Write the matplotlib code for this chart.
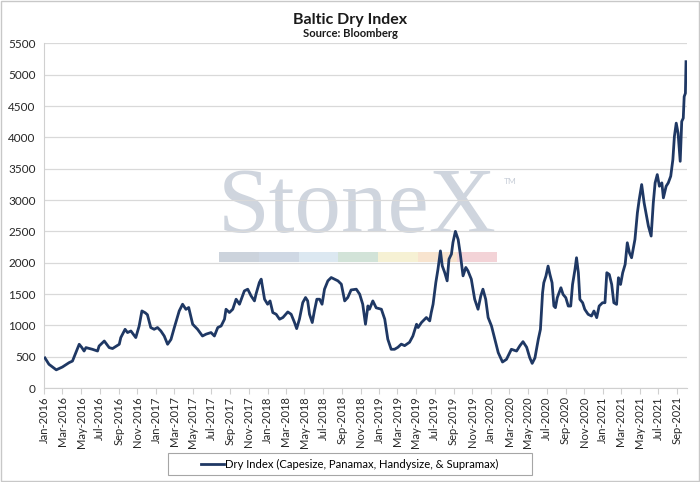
import matplotlib
matplotlib.use("Agg")
import matplotlib.pyplot as plt
import matplotlib.dates as mdates
from matplotlib.patches import Rectangle
import pandas as pd

dates = [
    "2016-01-04", "2016-01-17", "2016-02-10", "2016-03-01", "2016-03-23", "2016-04-03",
    "2016-04-14", "2016-04-25", "2016-05-03", "2016-05-11", "2016-05-17", "2016-06-07",
    "2016-06-24", "2016-06-29", "2016-07-16", "2016-08-01", "2016-08-12", "2016-09-03",
    "2016-09-08", "2016-09-22", "2016-09-30", "2016-10-11", "2016-10-27", "2016-11-07",
    "2016-11-16", "2016-11-27", "2016-12-04", "2016-12-15", "2016-12-26",
    "2017-01-06", "2017-01-17", "2017-01-28", "2017-02-08", "2017-02-19", "2017-03-02",
    "2017-03-18", "2017-03-29", "2017-04-09", "2017-04-18", "2017-05-01", "2017-05-17",
    "2017-06-02", "2017-06-14", "2017-06-30", "2017-07-11", "2017-07-22", "2017-08-02",
    "2017-08-13", "2017-08-18", "2017-08-29", "2017-09-09", "2017-09-20", "2017-10-01",
    "2017-10-07", "2017-10-17", "2017-10-28", "2017-11-08", "2017-11-19", "2017-11-24",
    "2017-12-05", "2017-12-11", "2017-12-22",
    "2018-01-01", "2018-01-09", "2018-01-18", "2018-01-29", "2018-02-09", "2018-02-20",
    "2018-03-08", "2018-03-19", "2018-03-30", "2018-04-06", "2018-04-15", "2018-04-26",
    "2018-05-05", "2018-05-12", "2018-05-18", "2018-05-27", "2018-06-03", "2018-06-11",
    "2018-06-20", "2018-06-28", "2018-07-06", "2018-07-17", "2018-07-28", "2018-08-08",
    "2018-08-19", "2018-08-30", "2018-09-10", "2018-09-20", "2018-10-01", "2018-10-18",
    "2018-10-29", "2018-11-08", "2018-11-17", "2018-11-25", "2018-11-30", "2018-12-11",
    "2018-12-22",
    "2019-01-08", "2019-01-19", "2019-01-29", "2019-02-09", "2019-02-20", "2019-03-03",
    "2019-03-14", "2019-03-25", "2019-04-10", "2019-04-21", "2019-05-03", "2019-05-08",
    "2019-05-19", "2019-06-04", "2019-06-15", "2019-06-20", "2019-06-26", "2019-07-05",
    "2019-07-12", "2019-07-20", "2019-07-26", "2019-08-03", "2019-08-11", "2019-08-17",
    "2019-08-25", "2019-08-30", "2019-09-07", "2019-09-16", "2019-09-23", "2019-10-02",
    "2019-10-11", "2019-10-18", "2019-10-29", "2019-11-09", "2019-11-20", "2019-11-29",
    "2019-12-06", "2019-12-15", "2019-12-23",
    "2020-01-03", "2020-01-14", "2020-01-25", "2020-02-08", "2020-02-21", "2020-03-08",
    "2020-03-25", "2020-04-05", "2020-04-15", "2020-04-27", "2020-05-07", "2020-05-15",
    "2020-05-24", "2020-06-04", "2020-06-11", "2020-06-18", "2020-06-22", "2020-06-29",
    "2020-07-06", "2020-07-12", "2020-07-19", "2020-07-25", "2020-07-30", "2020-08-05",
    "2020-08-11", "2020-08-17", "2020-08-24", "2020-09-02", "2020-09-10", "2020-09-18",
    "2020-09-24", "2020-10-02", "2020-10-07", "2020-10-13", "2020-10-18", "2020-10-27",
    "2020-11-03", "2020-11-14", "2020-11-25", "2020-12-03", "2020-12-12", "2020-12-20",
    "2020-12-31",
    "2021-01-08", "2021-01-14", "2021-01-22", "2021-01-30", "2021-02-06", "2021-02-15",
    "2021-02-21", "2021-02-28", "2021-03-07", "2021-03-15", "2021-03-22", "2021-03-29",
    "2021-04-05", "2021-04-16", "2021-04-24", "2021-04-30", "2021-05-08", "2021-05-16",
    "2021-05-22", "2021-05-30", "2021-06-08", "2021-06-15", "2021-06-21", "2021-06-28",
    "2021-07-05", "2021-07-13", "2021-07-18", "2021-07-27", "2021-08-03", "2021-08-11",
    "2021-08-18", "2021-08-23", "2021-08-29", "2021-09-04", "2021-09-11", "2021-09-16",
    "2021-09-21", "2021-09-24", "2021-09-28", "2021-09-30",
]

dry_index = [
    480, 379, 290, 335, 405, 430,
    565, 698, 650, 590, 645, 618,
    590, 670, 750, 645, 630, 698,
    805, 937, 885, 910, 805, 990,
    1230, 1200, 1170, 965, 937,
    965, 910, 830, 698, 775, 965,
    1230, 1337, 1255, 1285, 1018, 937,
    830, 860, 885, 830, 965, 990,
    1098, 1257, 1205, 1257, 1417, 1337,
    1417, 1550, 1577, 1470, 1390, 1497,
    1684, 1737, 1417,
    1337, 1390, 1204, 1177, 1098, 1125,
    1214, 1177, 1045, 948, 1098, 1364,
    1444, 1390, 1177, 1045, 1230, 1417,
    1417, 1337, 1577, 1710, 1763, 1737,
    1710, 1657, 1390, 1444, 1565, 1577,
    1497, 1337, 1018, 1310, 1257, 1390,
    1280,
    1257, 1098, 778, 618, 618, 650,
    700, 676, 730, 830, 1018, 965,
    1045, 1125, 1071, 1204, 1337, 1684,
    1896, 2188, 1950, 1843, 1710, 2057,
    2137, 2323, 2500, 2370, 2137, 1790,
    1924, 1870, 1737, 1417, 1257, 1470,
    1577, 1417, 1125,
    990, 778, 565, 415, 458, 618,
    590, 676, 740, 650, 485, 393,
    480, 777, 936, 1521, 1680, 1787,
    1946, 1813, 1680, 1308, 1282, 1441,
    1521, 1600, 1494, 1441, 1308, 1308,
    1653, 1893, 2079, 1840, 1415, 1361,
    1255, 1176, 1149, 1229, 1123, 1308,
    1361,
    1361, 1840, 1813, 1653, 1361, 1335,
    1760, 1653, 1840, 1973, 2318, 2158,
    2079, 2371, 2796, 3008, 3247, 2955,
    2796, 2584, 2425, 2955, 3274, 3406,
    3220, 3274, 3035, 3220, 3274, 3380,
    3645, 4015, 4227, 4068, 3618, 4254,
    4307, 4651, 4704, 5208,
]

title = "Baltic Dry Index"
subtitle = "Source: Bloomberg"
series_label = "Dry Index (Capesize, Panamax, Handysize, & Supramax)"
y_ticks = list(range(0, 5501, 500))
stripe_colors = ["#ccd3dc", "#cfd8e4", "#dce8f1", "#d2e3d8", "#f6f1d4", "#f8e4cf", "#f3d3d7"]

plt.rcParams['font.family'] = ['Lato', 'DejaVu Sans']

x = pd.to_datetime(dates)

fig = plt.figure(figsize=(7.0, 4.82), dpi=100)
fig.patch.set_facecolor("white")
fig.patches.append(Rectangle((0.002, 0.002), 0.996, 0.996, transform=fig.transFigure,
                             fill=False, edgecolor="#c8c8c8", linewidth=1.0))

ax = fig.add_axes([0.0629, 0.195, 0.918, 0.715])

# Watermark
ax.text(0.4876, 0.452, "StoneX", transform=ax.transAxes, ha="center", va="baseline",
        fontsize=67, family="Liberation Serif", color="#cfd5de", zorder=0)
ax.text(0.715, 0.60, "TM", transform=ax.transAxes, ha="left", va="center",
        fontsize=6, color="#c8ced8", zorder=0)
n = len(stripe_colors)
x0, w = 0.273, 0.432
for i, c in enumerate(stripe_colors):
    ax.add_patch(Rectangle((x0 + i * w / n, 0.365), w / n, 0.029, transform=ax.transAxes,
                           facecolor=c, edgecolor="none", zorder=0))

ax.plot(x, dry_index, color="#1f3864", linewidth=2.0, label=series_label, zorder=3,
        solid_joinstyle="round")

ax.set_ylim(0, 5500)
ax.set_yticks(y_ticks)
ax.set_xlim(pd.Timestamp("2016-01-01"), pd.Timestamp("2021-10-02"))
ax.xaxis.set_major_locator(mdates.MonthLocator(bymonth=[1, 3, 5, 7, 9, 11]))
ax.xaxis.set_major_formatter(mdates.DateFormatter("%b-%Y"))
plt.setp(ax.get_xticklabels(), rotation=90, fontsize=8, color="#262626")
plt.setp(ax.get_yticklabels(), fontsize=8.5, color="#262626")

ax.grid(axis="y", color="#d9d9d9", linewidth=0.9, zorder=1)
ax.set_axisbelow(True)
for s in ["top", "right"]:
    ax.spines[s].set_visible(False)
ax.spines["left"].set_color("#d0d0d0")
ax.spines["bottom"].set_color("#d0d0d0")
ax.tick_params(axis="x", length=4, color="#d0d0d0", pad=2)
ax.tick_params(axis="y", length=0, pad=6)

fig.text(0.5, 0.958, title, ha="center", va="center", fontsize=11.5, fontweight="bold",
         color="#1a1a1a")
fig.text(0.5, 0.930, subtitle, ha="center", va="center", fontsize=8.1, fontweight="bold",
         color="#1a1a1a")

# Legend box (fixed size, like the original) with legend content centred inside
fig.patches.append(Rectangle((168 / 700, 1 - 475 / 482), 364 / 700, 22 / 482,
                             transform=fig.transFigure, fill=False,
                             edgecolor="#a6a6a6", linewidth=0.8))
leg = fig.legend(loc="center", bbox_to_anchor=(0.5, 1 - 464 / 482), frameon=False,
                 fontsize=8.1, handlelength=2.0, handletextpad=0.15)

fig.savefig("out.png", dpi=100, facecolor="white")
